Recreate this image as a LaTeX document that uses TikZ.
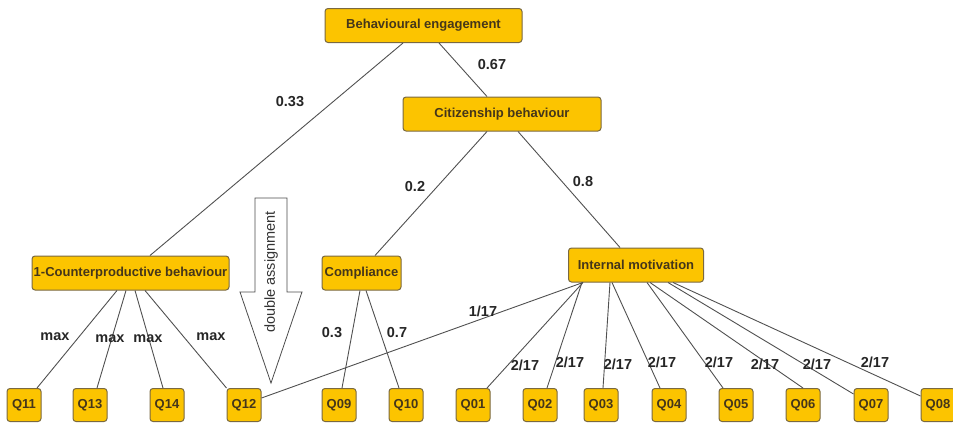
\documentclass[tikz,border=0pt]{standalone}
\usepackage{fontspec}
\setmainfont{Liberation Sans}
\usepackage{xcolor}
\usetikzlibrary{arrows.meta,positioning}
\definecolor{itemGold}{HTML}{FCC400}
\definecolor{itemEdge}{HTML}{7A6940}
\definecolor{itemText}{HTML}{45361A}
\definecolor{linkGray}{HTML}{505050}

\begin{document}
\begin{tikzpicture}[
    x=1pt, y=-1pt,
    box/.style={draw=itemEdge, line width=1pt, rounded corners=3pt, fill=itemGold, text=itemText, minimum height=34pt, inner sep=1pt, align=center, font=\fontsize{13}{15}\selectfont\bfseries},
    qbox/.style={box, minimum width=34pt, minimum height=33pt},
    link/.style={draw=linkGray, line width=0.9pt},
    wt/.style={text=black!85, font=\fontsize{14.5}{16}\selectfont\bfseries, inner sep=0pt}
  ]
    \useasboundingbox (0,0) rectangle (953,423);

    \node[box, minimum width=197pt] (be) at (423.5,25.5) {Behavioural engagement};
    \node[box, minimum width=198pt] (cit) at (502,114) {Citizenship behaviour};
    \node[box, minimum width=197pt] (cb) at (130.5,273) {1-Counterproductive behaviour};
    \node[box, minimum width=79pt] (comp) at (361.5,273) {Compliance};
    \node[box, minimum width=135pt] (im) at (636,265) {Internal motivation};

    \node[qbox] (q11) at (24,405) {Q11};
    \node[qbox] (q13) at (90,405) {Q13};
    \node[qbox] (q14) at (167,405) {Q14};
    \node[qbox] (q12) at (244,405) {Q12};
    \node[qbox] (q09) at (339,405) {Q09};
    \node[qbox] (q10) at (406,405) {Q10};
    \node[qbox] (q01) at (473,405) {Q01};
    \node[qbox] (q02) at (540,405) {Q02};
    \node[qbox] (q03) at (601,405) {Q03};
    \node[qbox] (q04) at (669,405) {Q04};
    \node[qbox] (q05) at (736,405) {Q05};
    \node[qbox] (q06) at (803,405) {Q06};
    \node[qbox] (q07) at (871,405) {Q07};
    \node[qbox] (q08) at (938,405) {Q08};

    % double assignment marker
    \draw[draw=black!70, line width=0.8pt, fill=white]
      (255,198) -- (287,198) -- (287,292) -- (302,292) -- (271,383) -- (240,292) -- (255,292) -- cycle;
    \node[rotate=90, font=\fontsize{14.5}{16}\selectfont, text=black!80] (dbl) at (271,272) {double assignment};

    \draw[link] ([xshift=-20.5pt]be.south) -- ([xshift=19.5pt]cb.north);
    \draw[link] ([xshift=15.5pt]be.south) -- ([xshift=-15pt]cit.north);
    \draw[link] ([xshift=-15pt]cit.south) -- ([xshift=13.5pt]comp.north);
    \draw[link] ([xshift=16pt]cit.south) -- ([xshift=-16pt]im.north);

    \draw[link] ([xshift=-13.5pt]cb.south) -- ([xshift=13pt]q11.north);
    \draw[link] ([xshift=-4.5pt]cb.south) -- ([xshift=7pt]q13.north);
    \draw[link] ([xshift=4.5pt]cb.south) -- ([xshift=-4pt]q14.north);
    \draw[link] ([xshift=14.5pt]cb.south) -- (q12.north west);

    \draw[link] ([xshift=-1.5pt]comp.south) -- ([xshift=3pt]q09.north);
    \draw[link] ([xshift=4.5pt]comp.south) -- ([xshift=-7pt]q10.north);

    \draw[link] ([xshift=-53pt]im.south) -- ([yshift=7pt]q12.east);
    \draw[link] ([xshift=-53pt]im.south) -- ([xshift=14pt]q01.north);
    \draw[link] ([xshift=-54pt]im.south) -- ([xshift=7pt]q02.north);
    \draw[link] ([xshift=-26pt]im.south) -- ([xshift=2pt]q03.north);
    \draw[link] ([xshift=-24pt]im.south) -- ([xshift=-9pt]q04.north);
    \draw[link] ([xshift=11pt]im.south) -- ([xshift=-13pt]q05.north);
    \draw[link] ([xshift=14pt]im.south) -- (q06.north);
    \draw[link] ([xshift=32pt]im.south) -- ([yshift=-6pt]q07.north west);
    \draw[link] ([xshift=37pt]im.south) -- ([yshift=-8pt]q08.north west);

    % weights
    \node[wt] (w33) at (290,102) {0.33};
    \node[wt] (w67) at (492,65) {0.67};
    \node[wt] (w2) at (415,187) {0.2};
    \node[wt] (w8) at (583,182) {0.8};
    \node[wt] (mx1) at (55,337) {max};
    \node[wt] (mx2) at (110,339) {max};
    \node[wt] (mx3) at (148,339) {max};
    \node[wt] (mx4) at (211,337) {max};
    \node[wt] (w3) at (332,333) {0.3};
    \node[wt] (w7) at (397,333) {0.7};
    \node[wt] (w117) at (483,311) {1/17};
    \node[wt] (wa) at (525,365) {2/17};
    \node[wt] (wb) at (570,362) {2/17};
    \node[wt] (wc) at (618,364) {2/17};
    \node[wt] (wd) at (662,362) {2/17};
    \node[wt] (we) at (719,362) {2/17};
    \node[wt] (wf) at (765,364) {2/17};
    \node[wt] (wg) at (817,364) {2/17};
    \node[wt] (wh) at (875,362) {2/17};
  \end{tikzpicture}
\end{document}
